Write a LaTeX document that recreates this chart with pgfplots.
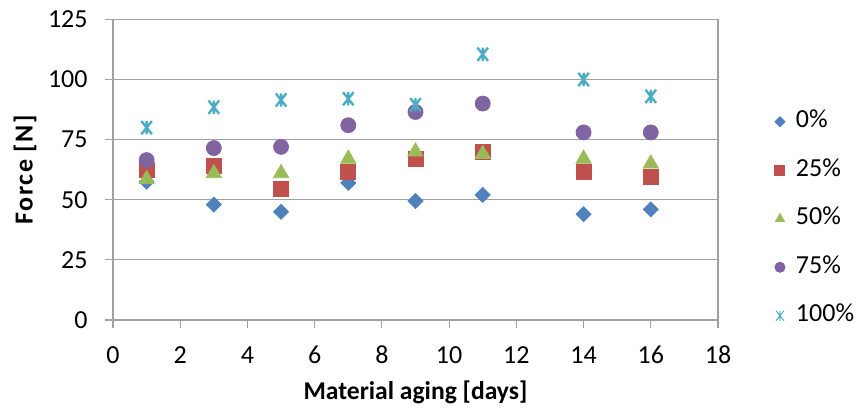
\documentclass[border=0pt]{standalone}
\usepackage{fontspec}
\setmainfont{Carlito}
\usepackage{pgfplots}
\pgfplotsset{compat=1.18}
\definecolor{cA}{HTML}{4F81BD}
\definecolor{cB}{HTML}{C0504D}
\definecolor{cC}{HTML}{9BBB59}
\definecolor{cD}{HTML}{8064A2}
\definecolor{cE}{HTML}{4BACC6}
\definecolor{axgray}{HTML}{A0A0A0}
% Excel-like star: vertical bar plus an X
\pgfdeclareplotmark{xstar}{%
  \pgfpathmoveto{\pgfqpoint{0pt}{\pgfplotmarksize}}%
  \pgfpathlineto{\pgfqpoint{0pt}{-\pgfplotmarksize}}%
  \pgfpathmoveto{\pgfqpoint{-0.8\pgfplotmarksize}{\pgfplotmarksize}}%
  \pgfpathlineto{\pgfqpoint{0.8\pgfplotmarksize}{-\pgfplotmarksize}}%
  \pgfpathmoveto{\pgfqpoint{-0.8\pgfplotmarksize}{-\pgfplotmarksize}}%
  \pgfpathlineto{\pgfqpoint{0.8\pgfplotmarksize}{\pgfplotmarksize}}%
  \pgfusepathqstroke}
\begin{document}
\begin{tikzpicture}
\useasboundingbox (0,0) rectangle (428pt,206pt);
\begin{axis}[
  at={(56.5pt,46pt)}, anchor=south west,
  scale only axis, width=302.5pt, height=150.3pt,
  xmin=0, xmax=18, ymin=0, ymax=125,
  xtick={0,2,...,18}, ytick={0,25,...,125},
  /pgf/number format/assume math mode=true,
  axis line style={draw=axgray, line width=0.6pt},
  ymajorgrids, grid style={draw=axgray, line width=0.6pt},
  tick align=outside, tick pos=left, major tick length=4pt,
  tick style={draw=axgray, line width=0.6pt},
  tick label style={font=\fontsize{13}{15}\selectfont},
  xticklabel style={anchor=center, yshift=-13.5pt},
  yticklabel style={anchor=east, inner sep=0pt, xshift=-8.5pt},
  xlabel={Material aging [days]},
  ylabel={Force [N]},
  xlabel style={font=\fontsize{12.8}{15}\selectfont\bfseries,
    at={(axis description cs:0.5,-0.2394)}, anchor=center},
  ylabel style={font=\fontsize{13}{15}\selectfont\bfseries\addfontfeatures{LetterSpace=6},
    at={(axis description cs:-0.1455,0.5)}, anchor=center},
  only marks,
  legend image code/.code={\draw[#1, mark size=2.5pt, line width=0.5pt] plot coordinates {(0pt,0pt)};},
  legend cell align=left,
  legend style={at={(1.0942,0.6994)}, anchor=north west, draw=none, fill=none,
    inner sep=0pt, outer sep=0pt, row sep=12.25pt, column sep=5.5pt,
    font=\fontsize{13}{15}\selectfont,
    nodes={inner sep=0pt, text height=9pt, text depth=3pt}},
]
\addplot[mark=diamond*, color=cA, mark size=3.75pt, mark options={xscale=1.33}] coordinates {
(1,57.5) (3,48) (5,45) (7,57) (9,49.5) (11,52) (14,44) (16,46)
};
\addlegendentry{0\%}
\addplot[mark=square*, color=cB, mark size=3.75pt] coordinates {
(1,62.5) (3,64) (5,54.5) (7,61.5) (9,67) (11,70) (14,61.5) (16,59.5)
};
\addlegendentry{25\%}
\addplot[mark=triangle*, color=cC, mark size=4.4pt] coordinates {
(1,58.5) (3,61) (5,61) (7,67) (9,70) (11,69) (14,67) (16,65)
};
\addlegendentry{50\%}
\addplot[mark=*, color=cD, mark size=3.75pt] coordinates {
(1,66.5) (3,71.5) (5,72) (7,81) (9,86.5) (11,90) (14,78) (16,78)
};
\addlegendentry{75\%}
\addplot[mark=xstar, color=cE, mark size=3.3pt, line width=1.2pt] coordinates {
(1,80) (3,88.5) (5,91.5) (7,92) (9,89.5) (11,110.5) (14,100) (16,93)
};
\addlegendentry{100\%}
\end{axis}
\end{tikzpicture}
\end{document}
